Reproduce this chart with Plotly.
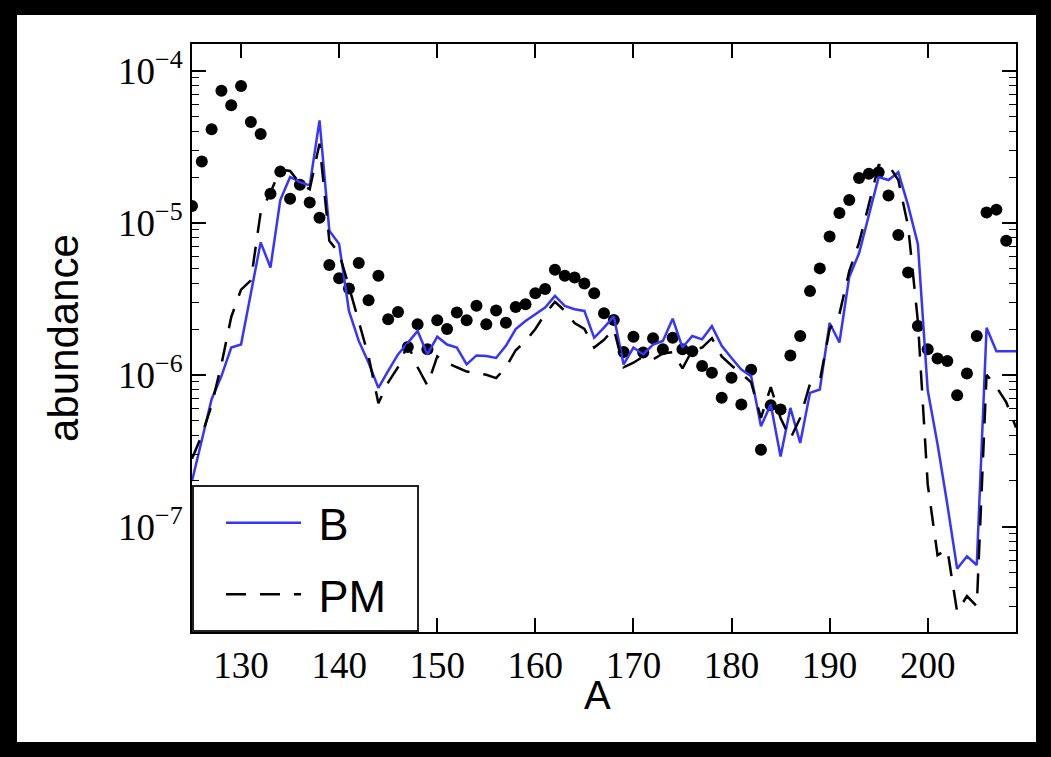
import numpy as np
import plotly.graph_objects as go

# ---- data ----
A_dots = list(range(125, 209))
dots = [1.29e-5, 2.53e-5, 4.12e-5, 7.38e-5, 5.93e-5, 7.94e-5, 4.60e-5, 3.84e-5, 1.55e-5, 2.17e-5,
        1.44e-5, 1.78e-5, 1.36e-5, 1.08e-5, 5.28e-6, 4.31e-6, 3.70e-6, 5.43e-6, 3.09e-6, 4.48e-6,
        2.32e-6, 2.59e-6, 1.52e-6, 2.15e-6, 1.47e-6, 2.28e-6, 2.00e-6, 2.57e-6, 2.28e-6, 2.84e-6,
        2.15e-6, 2.65e-6, 2.20e-6, 2.79e-6, 2.91e-6, 3.44e-6, 3.66e-6, 4.90e-6, 4.48e-6, 4.37e-6,
        3.98e-6, 3.44e-6, 2.54e-6, 2.29e-6, 1.41e-6, 1.78e-6, 1.40e-6, 1.74e-6, 1.47e-6, 1.75e-6,
        1.47e-6, 1.43e-6, 1.14e-6, 1.03e-6, 7.05e-7, 9.55e-7, 6.37e-7, 1.08e-6, 3.21e-7, 6.30e-7,
        5.90e-7, 1.34e-6, 1.80e-6, 3.55e-6, 5.01e-6, 8.13e-6, 1.16e-5, 1.41e-5, 1.97e-5, 2.10e-5,
        2.15e-5, 1.51e-5, 8.32e-6, 4.71e-6, 2.09e-6, 1.47e-6, 1.28e-6, 1.23e-6, 7.33e-7, 1.02e-6,
        1.80e-6, 1.17e-5, 1.22e-5, 7.62e-6]

A_lines = list(range(125, 210))
B = [2.0e-7, 3.7e-7, 6.9e-7, 9.8e-7, 1.51e-6, 1.58e-6, 3.47e-6, 7.43e-6, 5.08e-6, 1.41e-5,
     2.0e-5, 1.85e-5, 1.76e-5, 4.72e-5, 8.87e-6, 7.24e-6, 2.63e-6, 1.67e-6, 1.20e-6, 8.2e-7,
     1.06e-6, 1.36e-6, 1.62e-6, 1.94e-6, 1.36e-6, 1.78e-6, 1.58e-6, 1.51e-6, 1.17e-6, 1.34e-6,
     1.33e-6, 1.29e-6, 1.55e-6, 2.0e-6, 2.26e-6, 2.51e-6, 2.77e-6, 3.30e-6, 2.84e-6, 2.70e-6,
     2.63e-6, 1.75e-6, 2.04e-6, 2.42e-6, 1.17e-6, 1.51e-6, 1.36e-6, 1.58e-6, 1.67e-6, 2.34e-6,
     1.51e-6, 1.80e-6, 1.71e-6, 2.09e-6, 1.55e-6, 1.29e-6, 1.08e-6, 9.8e-7, 4.58e-7, 6.37e-7,
     2.90e-7, 6.05e-7, 3.56e-7, 7.6e-7, 8.0e-7, 2.19e-6, 1.63e-6, 4.4e-6, 6.3e-6, 1.12e-5,
     2.0e-5, 1.91e-5, 2.15e-5, 1.30e-5, 7.24e-6, 7.9e-7, 3.5e-7, 1.4e-7, 5.3e-8, 6.4e-8,
     5.6e-8, 2.04e-6, 1.43e-6, 1.43e-6, 1.43e-6]
PM = [2.8e-7, 4.0e-7, 6.3e-7, 1.17e-6, 2.4e-6, 3.63e-6, 4.17e-6, 1.17e-5, 1.58e-5, 2.24e-5,
      2.19e-5, 1.82e-5, 1.66e-5, 3.31e-5, 7.6e-6, 6.3e-6, 3.8e-6, 2.24e-6, 1.32e-6, 6.5e-7,
      8.9e-7, 1.12e-6, 1.58e-6, 1.12e-6, 8.5e-7, 1.32e-6, 1.2e-6, 1.12e-6, 1.05e-6, 1.02e-6,
      1.0e-6, 9.5e-7, 1.12e-6, 1.45e-6, 1.66e-6, 2.0e-6, 2.51e-6, 3.02e-6, 2.63e-6, 2.19e-6,
      2.0e-6, 1.51e-6, 1.7e-6, 2.0e-6, 1.12e-6, 1.2e-6, 1.32e-6, 1.26e-6, 1.38e-6, 1.41e-6,
      1.1e-6, 1.45e-6, 1.51e-6, 1.74e-6, 1.32e-6, 1.15e-6, 1.02e-6, 8.9e-7, 5.2e-7, 8.3e-7,
      5.2e-7, 3.8e-7, 5.2e-7, 8.7e-7, 9.1e-7, 2.0e-6, 2.51e-6, 4.8e-6, 7.4e-6, 1.32e-5,
      2.4e-5, 2.4e-5, 1.91e-5, 9.5e-6, 2.24e-6, 1.9e-7, 6.5e-8, 7.1e-8, 2.75e-8, 3.5e-8,
      3.0e-8, 1.0e-6, 8.3e-7, 6.6e-7, 4.5e-7]

x_ticks = [130, 140, 150, 160, 170, 180, 190, 200]
y_major = [1e-7, 1e-6, 1e-5, 1e-4]
y_major_text = ["10<sup>\u22127</sup>", "10<sup>\u22126</sup>", "10<sup>\u22125</sup>", "10<sup>\u22124</sup>"]
y_minor = [m * 10.0 ** e for e in range(-8, -3) for m in range(2, 10)]

NB = "\u00a0"
fig = go.Figure()
fig.add_trace(go.Scatter(x=A_dots, y=dots, mode="markers", showlegend=False,
                         marker=dict(color="black", size=12)))
fig.add_trace(go.Scatter(x=A_lines, y=B, mode="lines", name=NB + "B", legendgroup="b",
                         line=dict(color="#3535ff", width=2.5)))
fig.add_trace(go.Scatter(x=A_lines, y=PM, mode="lines", name=NB + "PM" + NB + NB, legendgroup="pm",
                         line=dict(color="black", width=2.5, dash="20px,14px")))

W, H = 1051, 757
ml, mr, mt, mb = 192, 35, 44, 125
pw, ph = W - ml - mr, H - mt - mb

def px2paper_x(px):
    return (px - ml) / pw

def px2paper_y(py):
    return (H - mb - py) / ph

fig.add_shape(type="rect", xref="paper", yref="paper", layer="below",
              x0=px2paper_x(17), x1=px2paper_x(1036), y0=px2paper_y(742), y1=px2paper_y(15),
              fillcolor="white", line=dict(width=0))

fig.add_annotation(text="A", xref="paper", yref="paper", x=px2paper_x(597), y=px2paper_y(695),
                   xanchor="center", yanchor="middle", showarrow=False,
                   font=dict(family="Liberation Sans", size=40, color="black"))

tickfont = dict(family="Liberation Serif", size=37, color="black")
fig.update_layout(
    width=W, height=H,
    margin=dict(l=ml, r=mr, t=mt, b=mb, pad=0),
    paper_bgcolor="black", plot_bgcolor="white",
    showlegend=True,
    legend=dict(x=0, y=0, xanchor="left", yanchor="bottom", bgcolor="white",
                bordercolor="#222", borderwidth=2, itemwidth=75, indentation=27,
                font=dict(family="Liberation Sans", size=45, color="black"),
                tracegroupgap=10),
    xaxis=dict(range=[125, 209], tickvals=x_ticks, ticks="inside", ticklen=14, tickwidth=1.5,
               tickcolor="black", showline=True, linecolor="black", linewidth=2, mirror="ticks",
               showgrid=False, zeroline=False, tickfont=tickfont),
    yaxis=dict(type="log", range=[np.log10(2.03e-8), np.log10(1.5e-4)],
               tickvals=y_major, ticktext=y_major_text, ticks="inside", ticklen=14, tickwidth=1.5,
               tickcolor="black", showline=True, linecolor="black", linewidth=2, mirror="ticks",
               showgrid=False, zeroline=False, tickfont=tickfont,
               minor=dict(tickmode="array", tickvals=y_minor, ticks="inside", ticklen=7,
                          tickcolor="black", tickwidth=1, showgrid=False),
               title=dict(text="abundance", font=dict(family="Liberation Sans", size=42, color="black"), standoff=26)),
)

fig.write_html("out.html", config={"displayModeBar": False},
               post_script="document.body.style.margin='0';document.body.style.overflow='hidden';")
